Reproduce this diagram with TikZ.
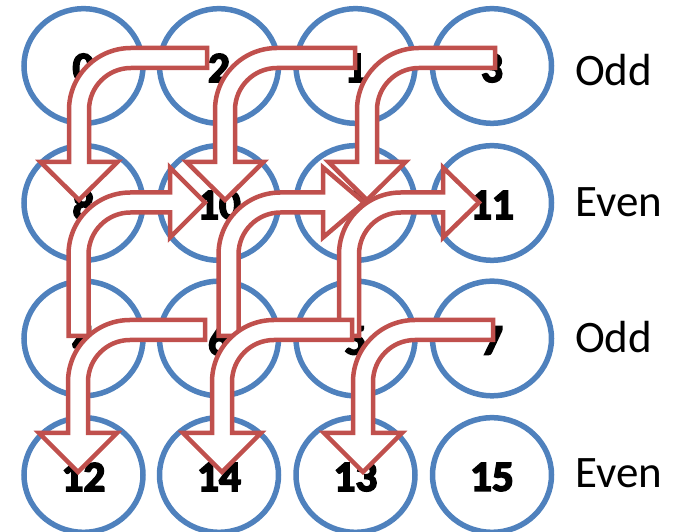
\documentclass[tikz,border=0pt]{standalone}
\usepackage{fontspec}
\setmainfont{Carlito}
\newfontfamily\numfont{Carlito}[BoldFeatures={FakeBold=4}]
\usetikzlibrary{shapes.geometric}
\definecolor{cellblue}{HTML}{4F81BD}
\definecolor{arrowred}{HTML}{C0504D}
\def\bendR{52}
\newcommand\myArrowA[6]{% tail x, shaft y, vertical x, head base y, head length, head half width
  \draw[hollowarrow] (#1,#2+10) -- (#3+\bendR,#2+10) arc[start angle=90,end angle=180,radius=\bendR+10]
    -- (#3-10,#4) -- (#3-#6,#4) -- (#3,#4-#5) -- (#3+#6,#4) -- (#3+10,#4)
    -- (#3+10,#2-\bendR) arc[start angle=180,end angle=90,radius=\bendR-10] -- (#1,#2-10) -- cycle;}
\newcommand\myArrowB[6]{% vertical x, tail y, shaft y, head base x, head length, head half height
  \draw[hollowarrow] (#1-10,#2) -- (#1-10,#3-\bendR) arc[start angle=180,end angle=90,radius=\bendR+10]
    -- (#4,#3+10) -- (#4,#3+#6) -- (#4+#5,#3) -- (#4,#3-#6) -- (#4,#3-10)
    -- (#1+\bendR,#3-10) arc[start angle=90,end angle=180,radius=\bendR-10] -- (#1+10,#2) -- cycle;}
\begin{document}
\begin{tikzpicture}[x=1pt,y=1pt,
  cell/.style={ellipse, draw=cellblue, line width=5.5pt, minimum width=119pt, minimum height=114.6pt, inner sep=0pt},
  num/.style={font=\fontsize{43}{50}\numfont\bfseries, inner sep=0pt},
  parity/.style={font=\fontsize{45}{54}\selectfont, anchor=base west, inner sep=0pt},
  hollowarrow/.style={draw=arrowred, fill=white, line width=4.5pt}]
\useasboundingbox (0,0) rectangle (675,532);
\clip (0,0) rectangle (675,532);
% ellipses
\foreach \c/\x in {0/83.5,1/219,2/355.5,3/492}{
  \foreach \r/\y in {0/466,1/329,2/193.5,3/57}{
    \node[cell] (e\r\c) at (\x,\y) {};
  }
}
% numbers
\node[num] (n0)  at (83.5,464) {0};
\node[num] (n2)  at (219,464) {2};
\node[num] (n1)  at (355.5,464) {1};
\node[num] (n3)  at (492,464) {3};
\node[num] (n8)  at (83.5,327) {8};
\node[num] (n10) at (219,327) {10};
\node[num] (n9)  at (355.5,327) {9};
\node[num] (n11) at (492,327) {11};
\node[num] (n4)  at (83.5,191.5) {4};
\node[num] (n6)  at (219,191.5) {6};
\node[num] (n5)  at (355.5,191.5) {5};
\node[num] (n7)  at (492,191.5) {7};
\node[num] (n12) at (83.5,55) {12};
\node[num] (n14) at (219,55) {14};
\node[num] (n13) at (355.5,55) {13};
\node[num] (n15) at (492,55) {15};
% row labels
\node[parity] (l0) at (575,446) {Odd};
\node[parity] (l1) at (575,315) {Even};
\node[parity] (l2) at (575,179) {Odd};
\node[parity] (l3) at (575,44) {Even};
% arrows, first row
\myArrowA{207}{474}{79}{370}{38}{38.5}
\myArrowA{355}{474}{225}{370}{38}{38.5}
\myArrowA{495}{474}{367}{370}{38}{38.5}
% arrows, up and right
\myArrowB{78.5}{196}{329.5}{170}{35}{35}
\myArrowB{228.5}{196}{329.5}{323}{41}{35}
\myArrowB{349}{196}{329.5}{443}{36}{35}
% arrows, third row
\myArrowA{205}{202}{78}{99}{39}{39}
\myArrowA{352}{202}{222}{99}{39}{39}
\myArrowA{493}{202}{363}{99}{39}{39}
\end{tikzpicture}
\end{document}
